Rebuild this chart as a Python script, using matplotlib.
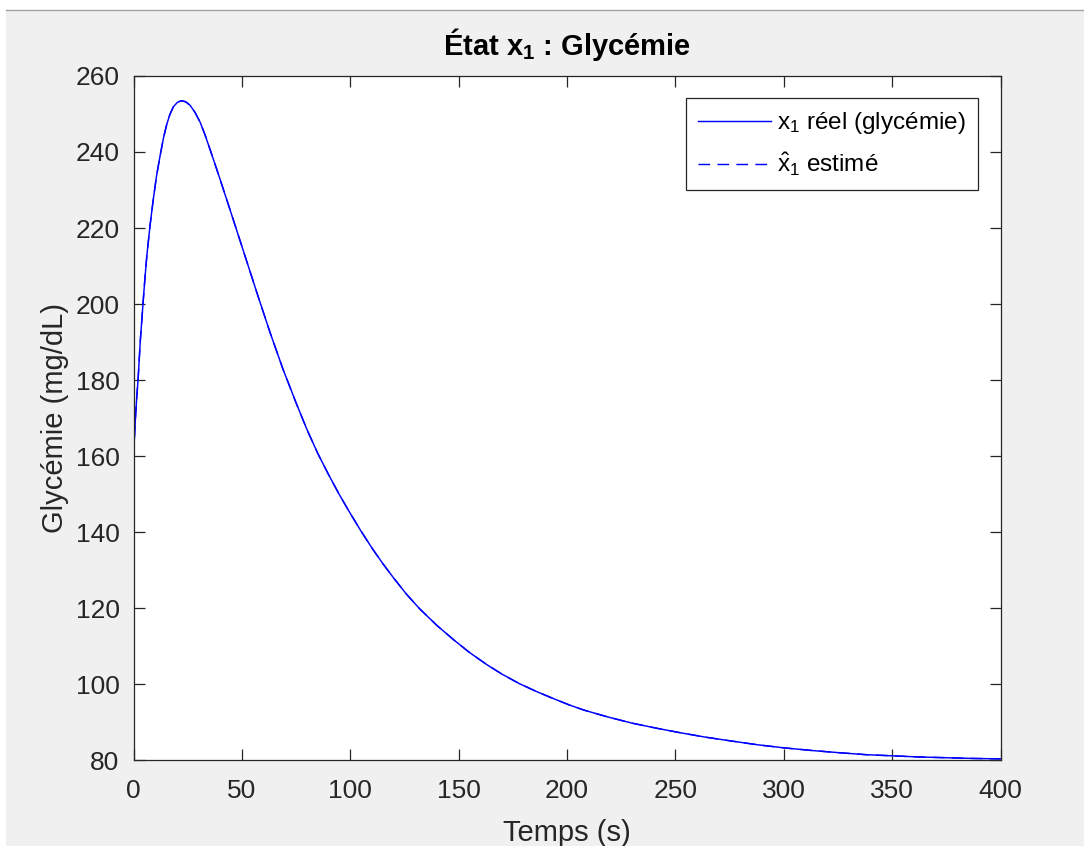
import matplotlib
matplotlib.use('Agg')
import matplotlib.pyplot as plt
import matplotlib.patches as patches

plt.rcParams['font.family'] = ['Liberation Sans', 'DejaVu Sans']
plt.rcParams['mathtext.fontset'] = 'custom'
plt.rcParams['mathtext.rm'] = 'Liberation Sans'
plt.rcParams['mathtext.it'] = 'Liberation Sans:italic'
plt.rcParams['mathtext.bf'] = 'Liberation Sans:bold'

# valeurs
temps = [0, 0.5, 1, 1.5, 2.1, 3.1, 4.4, 5.2, 6.1, 7.6, 9.1, 10.6, 12.2, 13.8,
         15.3, 16.8, 18.4, 20.3, 22.2, 24.1, 26.1, 28.4, 30.7, 33, 35.3, 37.6,
         39.9, 42, 44.2, 46.7, 49.2, 53.4, 57.6, 63, 69, 75, 80, 85, 90, 95,
         100, 105, 110, 115, 120, 126, 132, 140, 148, 155, 163, 170, 178, 186,
         194, 201, 208, 219, 230, 241, 252, 264, 277, 288, 300, 313, 326, 338,
         350, 362, 375, 388, 400]
x1_reel = [160, 165.5, 171, 175.5, 180, 190, 200.2, 206.2, 212.4, 220.5, 227.4,
           233.6, 238.8, 243.6, 247.2, 249.9, 251.9, 253.1, 253.5, 253.2, 252.3,
           250.4, 247.9, 244.5, 240.7, 236.8, 232.9, 229.2, 225.4, 221, 216.6,
           209.2, 201.8, 192.5, 182.8, 174, 167, 160.7, 155.1, 149.8, 144.9,
           140.2, 135.8, 131.7, 127.9, 123.6, 119.8, 115.4, 111.5, 108.3, 105.1,
           102.6, 100.1, 98, 96.1, 94.5, 93.1, 91.3, 89.7, 88.4, 87.2, 86, 84.9,
           84, 83.2, 82.5, 81.9, 81.4, 81.1, 80.8, 80.6, 80.4, 80.3]
# l'estimation se superpose exactement au signal reel
x1_estime = list(x1_reel)

xticks = [0, 50, 100, 150, 200, 250, 300, 350, 400]
yticks = [80, 100, 120, 140, 160, 180, 200, 220, 240, 260]

W, H = 1084, 846
fig = plt.figure(figsize=(W / 100, H / 100), dpi=100, facecolor='#f0f0f0')

# bande blanche de la fenetre en haut / a gauche
fig.patches.append(patches.Rectangle((0, 1 - 10 / H), 1, 10 / H, transform=fig.transFigure,
                                     facecolor='white', edgecolor='none', zorder=0))
fig.patches.append(patches.Rectangle((0, 0), 6 / W, 1, transform=fig.transFigure,
                                     facecolor='white', edgecolor='none', zorder=0))
fig.lines.append(plt.Line2D([6 / W, 1], [1 - 10.5 / H, 1 - 10.5 / H], transform=fig.transFigure,
                            color='#a0a0a0', lw=1))

left, right, top, bottom = 133.5, 1000.5, 76, 760
ax = fig.add_axes([left / W, 1 - bottom / H, (right - left) / W, (bottom - top) / H])
ax.set_facecolor('white')

ax.plot(temps, x1_reel, '-', color='blue', lw=1.05, solid_joinstyle='round',
        label=r'$\mathrm{x}_1$ réel (glycémie)')
ax.plot(temps, x1_estime, '--', color='blue', lw=1.05, dashes=(8, 5),
        label=r'$\hat{\mathrm{x}}_1$ estimé')

ax.set_xlim(0, 400)
ax.set_ylim(80, 260)
ax.set_xticks(xticks)
ax.set_yticks(yticks)

dark = '#262626'
for s in ax.spines.values():
    s.set_color(dark)
    s.set_linewidth(0.9)
ax.tick_params(direction='in', length=8, width=0.9, colors=dark, labelsize=19,
               top=True, right=True)
ax.tick_params(axis='x', pad=14)
ax.tick_params(axis='y', pad=10)

ax.set_xlabel('Temps (s)', fontsize=21, color=dark, labelpad=11)
ax.set_ylabel('Glycémie (mg/dL)', fontsize=21, color=dark, labelpad=5)
ax.set_title(r'État $\mathbf{x}_\mathbf{1}$ : Glycémie', fontsize=21, fontweight='bold',
             color='black', pad=15)

leg = ax.legend(loc='upper right', bbox_to_anchor=(0.974, 0.968), borderaxespad=0,
                fontsize=17.5, handlelength=3.0, handletextpad=0.25, labelspacing=0.6,
                borderpad=0.5, fancybox=False, framealpha=1, edgecolor=dark)
leg.get_frame().set_linewidth(0.9)

plt.savefig('out.png', dpi=100, facecolor=fig.get_facecolor())
